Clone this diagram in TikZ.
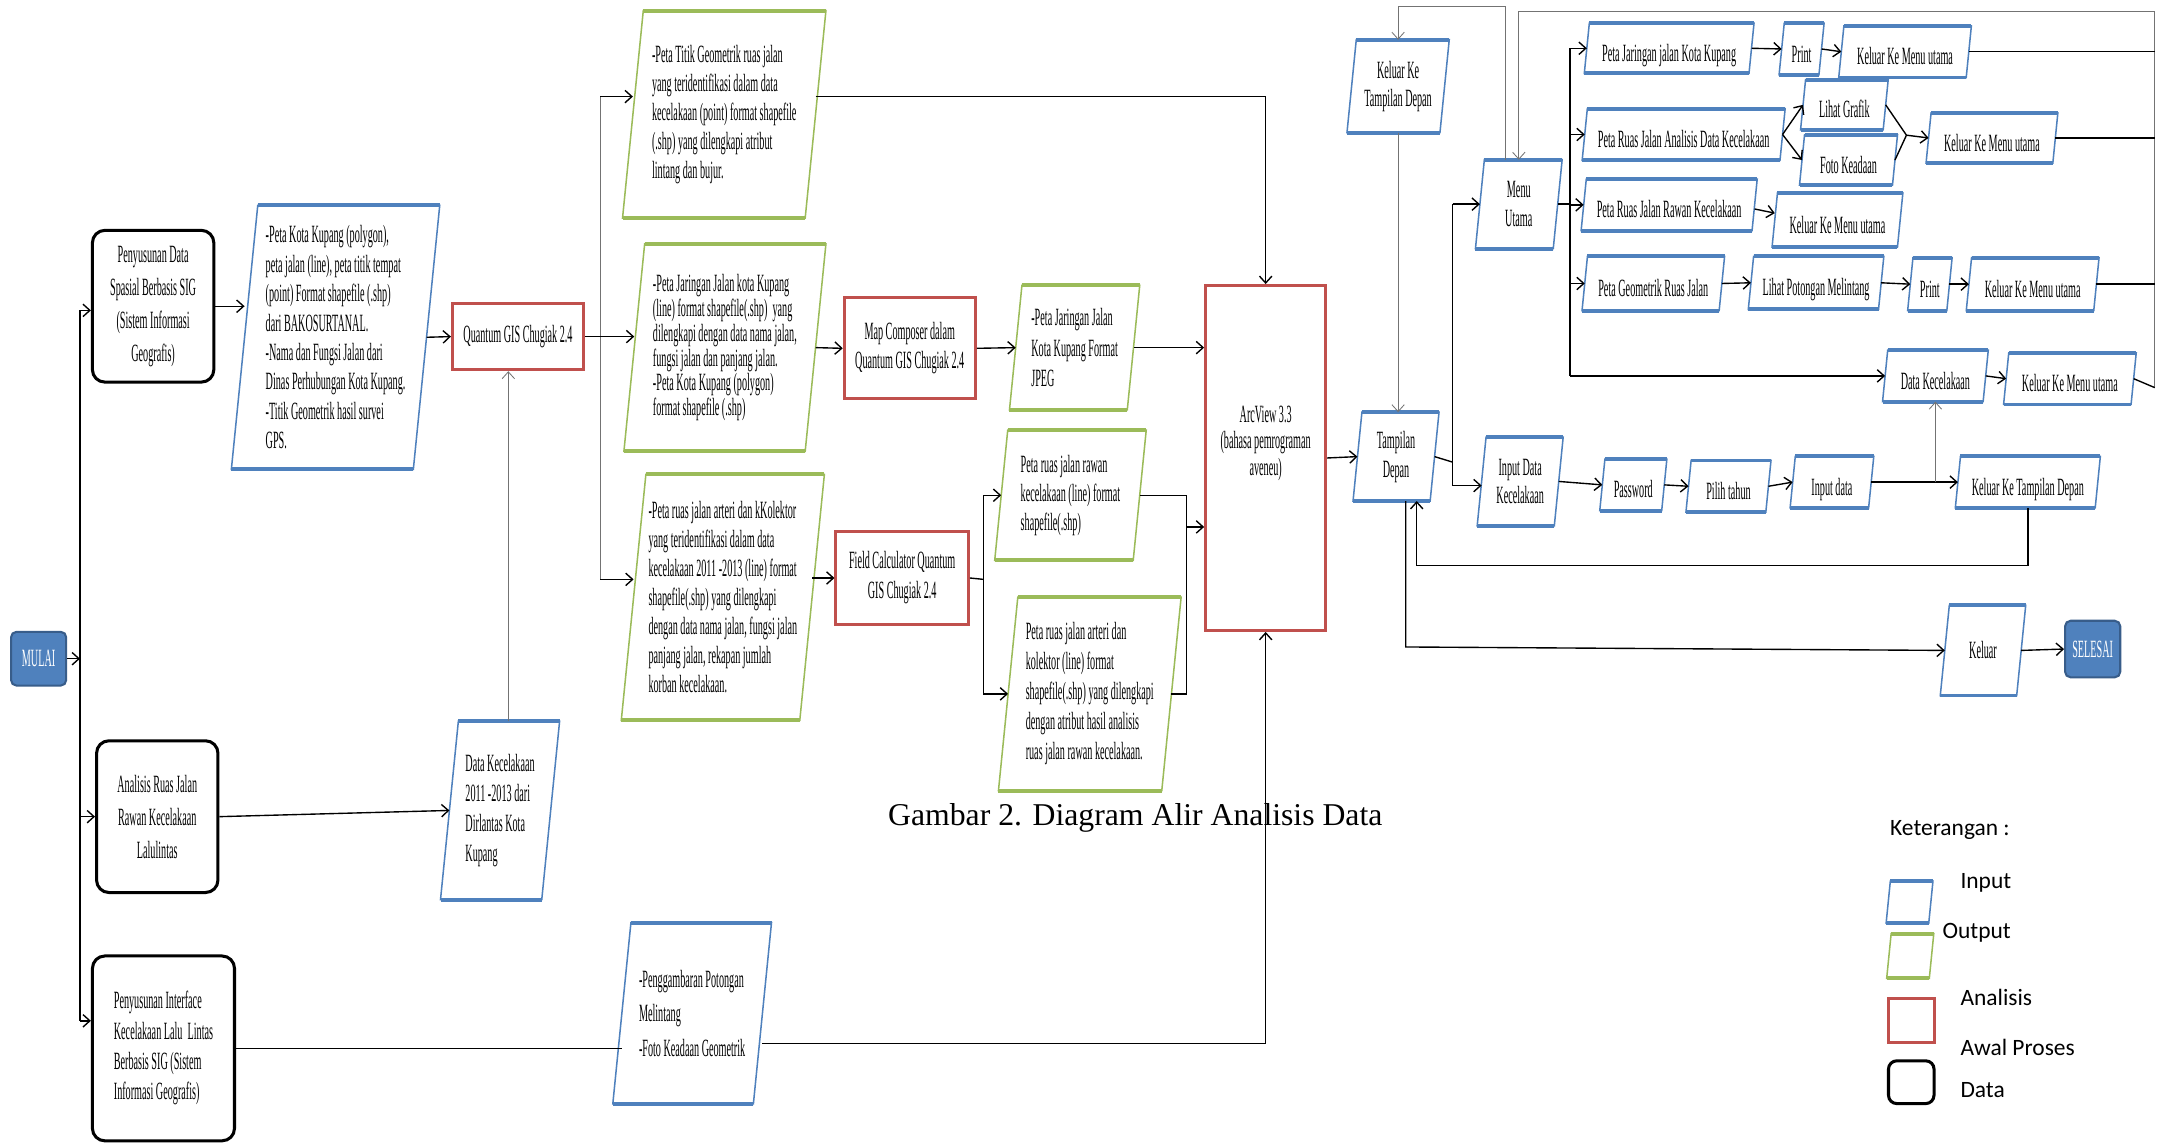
\documentclass[tikz,border=0pt]{standalone}
\usepackage{fontspec}
\usetikzlibrary{calc,arrows.meta}
\setmainfont{Liberation Serif}
\newfontfamily\boxfont[FakeStretch=0.41]{Liberation Serif}
\newfontfamily\legfont{Carlito}
\definecolor{inblue}{RGB}{79,129,189}
\definecolor{darkblue}{RGB}{56,93,138}
\definecolor{outgreen}{RGB}{155,187,89}
\definecolor{anred}{RGB}{192,80,77}
\newcommand{\paraframe}[2]{%
  \draw[#2, line width=1.1pt]
    let \p1=(#1.north west), \p2=(#1.south east), \n1={0.05*(\y1-\y2)} in
    (\x1+\n1,\y1) -- (\x2+\n1,\y1) -- (\x2-\n1,\y2) -- (\x1-\n1,\y2) -- cycle;
  \draw[#2, line width=2.8pt]
    let \p1=(#1.north west), \p2=(#1.south east), \n1={0.05*(\y1-\y2)} in
    (\x1+\n1,\y1) -- (\x2+\n1,\y1) (\x2-\n1,\y2) -- (\x1-\n1,\y2);
}

\begin{document}
\begin{tikzpicture}[x=1pt, y=-1pt, >={Straight Barb[length=5pt,width=9pt]},
    every node/.style={font=\boxfont\fontsize{18}{21}\selectfont, inner sep=2pt, align=center},
    ls/.style={font=\boxfont\fontsize{18}{#1}\selectfont},
    sz/.style 2 args={minimum width=#1pt, minimum height=#2pt},
    onerow/.style={text height=23pt, text depth=4pt},
    startbox/.style={fill=inblue, draw=darkblue, line width=1.5pt, rounded corners=4pt, text=white},
    databox/.style={draw, line width=2.2pt, rounded corners=9pt},
    anbox/.style={draw=anred, line width=2.2pt},
    conn/.style={line width=1pt},
    faint/.style={draw=black!55, line width=0.6pt},
    legtext/.style={font=\legfont\fontsize{17}{20}\selectfont, anchor=west, inner sep=0pt}]
    \path[use as bounding box, fill=white] (0,0) rectangle (1568,829);

    \node[startbox, sz={40}{39}] (mulai) at (28,477.5) {MULAI};
    \node[databox, sz={88}{110}, ls=24] (susun) at (111,222) {Penyusunan Data\\Spasial Berbasis SIG\\(Sistem Informasi\\Geografis)};
    \node[databox, sz={88}{110}, ls=24] (analisis) at (114,592) {Analisis Ruas Jalan\\Rawan Kecelakaan\\Lalulintas};
    \node[databox, sz={103}{134}, ls=22, align=left] (iface) at (118.5,760) {Penyusunan Interface\\Kecelakaan Lalu\ \ Lintas\\Berbasis SIG (Sistem\\Informasi Geografis)};
    \node[sz={131.5}{191}, ls=21.3, align=left] (pkk) at (243.25,244.5) {-Peta Kota Kupang (polygon),\\peta jalan (line), peta titik tempat\\(point) Format shapefile (.shp)\\dari BAKOSURTANAL.\\-Nama dan Fungsi Jalan dari\\Dinas Perhubungan Kota Kupang.\\-Titik Geometrik hasil survei\\GPS.};
    \node[anbox, sz={95}{48}] (qgis) at (375.5,244) {Quantum GIS Chugiak 2.4};
    \node[sz={73}{129}, ls=21.8, align=left] (dkec) at (362.5,587.5) {Data Kecelakaan\\2011 -2013 dari\\Dirlantas Kota\\Kupang};
    \node[sz={101.5}{131}, ls=25, align=left] (pgamb) at (501.75,734.5) {-Penggambaran Potongan\\Melintang\\-Foto Keadaan Geometrik};
    \node[sz={132}{150}, align=left] (titik) at (525,83) {-Peta Titik Geometrik ruas jalan\\yang teridentifikasi dalam data\\kecelakaan (point) format shapefile\\(.shp) yang dilengkapi atribut\\lintang dan bujur.};
    \node[sz={131}{150}, ls=18, align=left] (jar) at (525.5,252) {-Peta Jaringan Jalan kota Kupang\\(line) format shapefile(.shp)\ \ yang\\dilengkapi dengan data nama jalan,\\fungsi jalan dan panjang jalan.\\-Peta Kota Kupang (polygon)\\format shapefile (.shp)};
    \node[sz={129}{178}, align=left] (rute) at (524,433) {-Peta ruas jalan arteri dan kKolektor\\yang teridentifikasi dalam data\\kecelakaan 2011 -2013 (line) format\\shapefile(.shp) yang dilengkapi\\dengan data nama jalan, fungsi jalan\\panjang jalan, rekapan jumlah\\korban kecelakaan.};
    \node[anbox, sz={95}{73}] (mapc) at (659.5,252.5) {Map Composer dalam\\Quantum GIS Chugiak 2.4};
    \node[sz={85}{90}, ls=22, align=left] (jpeg) at (779,252) {-Peta Jaringan Jalan\\Kota Kupang Format\\JPEG};
    \node[anbox, sz={96}{68}, ls=21.8] (fcalc) at (654,419) {Field Calculator Quantum\\GIS Chugiak 2.4};
    \node[sz={100}{94}, align=left] (rawan) at (776,359) {Peta ruas jalan rawan\\kecelakaan (line) format\\shapefile(.shp)};
    \node[sz={118}{140}, ls=21.7, align=left] (arkol) at (790,503) {Peta ruas jalan arteri dan\\kolektor (line) format\\shapefile(.shp) yang dilengkapi\\dengan atribut hasil analisis\\ruas jalan rawan kecelakaan.};
    \node[anbox, sz={87}{250}, ls=19] (arcview) at (917.5,332) {ArcView 3.3\\(bahasa pemrograman\\aveneu)\\[6pt]\mbox{}};
    \node[font=\fontsize{23}{27}\selectfont] (caption) at (823,593) {Gambar 2. Diagram Alir Analisis Data};

    \node[sz={55.5}{64}] (tdepan) at (1012,331) {Tampilan\\Depan};
    \node[sz={67}{67}, ls=20.5] (kkdepan) at (1013.5,62.5) {Keluar Ke\\Tampilan Depan};
    \node[sz={56}{64}] (menu) at (1101,148) {Menu\\Utama};
    \node[onerow, sz={119}{36}] (jln) at (1210,35) {Peta Jaringan jalan Kota Kupang};
    \node[onerow, sz={28.5}{37}] (print1) at (1306,35.5) {Print};
    \node[onerow, sz={92}{37}] (kmu1) at (1381,37.5) {Keluar Ke Menu utama};
    \node[onerow, sz={143}{37}] (anl) at (1220.5,97.5) {Peta Ruas Jalan Analisis Data Kecelakaan};
    \node[onerow, sz={59.5}{36}] (grafik) at (1337,76) {Lihat Grafik};
    \node[onerow, sz={67}{36}] (foto) at (1340,116) {Foto Keadaan};
    \node[onerow, sz={91.5}{36}] (kmu2) at (1444,100) {Keluar Ke Menu utama};
    \node[onerow, sz={123.5}{37}] (rwn) at (1210,148.5) {Peta Ruas Jalan Rawan Kecelakaan};
    \node[onerow, sz={90.5}{39}] (kmu3) at (1332,159.5) {Keluar Ke Menu utama};
    \node[onerow, sz={99}{39}] (geo) at (1198.5,205.5) {Peta Geometrik Ruas Jalan};
    \node[onerow, sz={94}{38}] (potong) at (1316.5,205) {Lihat Potongan Melintang};
    \node[onerow, sz={28}{38}] (print2) at (1399,206) {Print};
    \node[onerow, sz={92}{38}] (kmu4) at (1473.5,206) {Keluar Ke Menu utama};
    \node[onerow, sz={72.5}{37}] (dkr) at (1403,272.5) {Data Kecelakaan};
    \node[onerow, sz={92}{37}] (kmu5) at (1500.5,274.5) {Keluar Ke Menu utama};
    \node[sz={55.5}{64}, ls=20.5] (idk) at (1102,349) {Input Data\\Kecelakaan};
    \node[onerow, sz={44.5}{37}] (pwd) at (1184,351.5) {Password};
    \node[onerow, sz={57.5}{37}] (tahun) at (1253,352.5) {Pilih tahun};
    \node[onerow, sz={56.5}{37}] (inp) at (1328,349.5) {Input data};
    \node[onerow, sz={101}{37}] (kktd) at (1470,349.5) {Keluar Ke Tampilan Depan};
    \node[sz={55}{65}] (keluar) at (1437.5,471.5) {Keluar};
    \node[startbox, sz={40}{41}] (selesai) at (1517,470.5) {SELESAI};

    \node[legtext] (ketlbl) at (1370,602) {Keterangan :};
    \node[sz={30.5}{30}] (lin) at (1384.25,654) {};
    \node[sz={30.5}{32}] (lout) at (1384.75,693) {};
    \node[anbox, sz={33}{32}] (lan) at (1385.5,740) {};
    \node[databox, sz={33}{31}, rounded corners=6pt] (ldat) at (1385.5,784.5) {};
    \node[legtext] (linlbl) at (1421,640) {Input};
    \node[legtext] (loutlbl) at (1408,676) {Output};
    \node[legtext] (lanlbl) at (1421,723) {Analisis};
    \node[legtext] (lawal) at (1421,759) {Awal Proses};
    \node[legtext] (ldatlbl) at (1421,790) {Data};

    \foreach \k in {pkk,dkec,pgamb,tdepan,kkdepan,menu,jln,print1,kmu1,anl,grafik,foto,kmu2,rwn,kmu3,geo,potong,print2,kmu4,dkr,kmu5,idk,pwd,tahun,inp,kktd,keluar,lin} {\paraframe{\k}{inblue}}
    \foreach \k in {titik,jar,rute,jpeg,rawan,arkol,lout} {\paraframe{\k}{outgreen}}

    \coordinate (tktop) at (58,225);
    \coordinate (tkbot) at (58,740);
    \draw[conn] (tktop) -- (tkbot);
    \draw[conn,->] (mulai) -- (mulai -| tktop);
    \draw[conn,->] (tktop) -- (tktop -| susun.west);
    \draw[conn,->] (tktop |- analisis) -- (analisis);
    \draw[conn,->] (tkbot) -- (tkbot -| iface.west);
    \draw[conn,->] (susun) -- (susun -| pkk.west);
    \draw[conn,->] (pkk.east) -- (qgis.west);
    \draw[faint,->] ([xshift=6pt]dkec.north) -- ([xshift=6pt]dkec.north |- qgis.south);
    \draw[conn,->] (analisis.east) -- (dkec.west);
    \draw[conn] (iface.east) -- (iface.east -| pgamb.west);
    \draw[conn,->] ($(pgamb.east)+(0,22)$) -| (arcview.south);

    \coordinate (qbr) at (435,244);
    \draw[conn] (qgis.east) -- (qbr);
    \draw[faint] ($(qbr |- titik.west)+(0,-13)$) -- ($(qbr |- rute.west)+(0,-13)$);
    \draw[conn,->] ($(qbr |- titik.west)+(0,-13)$) -- ($(titik.west)+(0,-13)$);
    \draw[conn,->] (qbr) -- (qbr -| jar.west);
    \draw[conn,->] ($(qbr |- rute.west)+(0,-13)$) -- ($(rute.west)+(0,-13)$);
    \draw[conn,->] ($(titik.east)+(0,-13)$) -| (arcview.north);
    \draw[conn,->] (jar.east) -- (mapc.west);
    \draw[conn,->] (mapc.east) -- (jpeg.west);
    \draw[conn,->] (jpeg.east) -- (jpeg.east -| arcview.west);
    \draw[conn,->] ($(rute.east)+(0,-14)$) -- (fcalc.west);
    \coordinate (fbr) at (713,420);
    \draw[conn] (fcalc.east) -- (fbr);
    \draw[conn,->] (fbr) |- (rawan.west);
    \draw[conn,->] (fbr) |- (arkol.west);
    \coordinate (mbr) at (860,382);
    \draw[conn] (rawan.east) -| (mbr);
    \draw[conn] (arkol.east) -| (mbr);
    \draw[conn,->] (mbr) -- (mbr -| arcview.west);
    \draw[conn,->] (arcview.east) -- (tdepan.west);

    \draw[faint,->] (kkdepan.south) -- (kkdepan.south |- tdepan.north);
    \coordinate (ktop) at (1013.5,5);
    \draw[faint,->] ($(menu.north)+(-10,0)$) |- (ktop) -- (kkdepan.north);
    \coordinate (rtop) at (1562,8);
    \coordinate (rbot) at (1562,281);
    \draw[faint] (rtop) -- (rbot);
    \draw[faint,->] (rtop) -| (menu.north);
    \draw[conn] (kmu1.east) -- (kmu1.east -| rtop);
    \draw[conn] (kmu2.east) -- (kmu2.east -| rtop);
    \draw[conn] (kmu4.east) -- (kmu4.east -| rtop);
    \draw[conn] (kmu5.east) -- (rbot);

    \coordinate (tbr) at (1053,335);
    \draw[conn] (tdepan.east) -- (tbr);
    \draw[conn] (tbr |- menu.west) -- ($(tbr |- idk.west)+(0,3)$);
    \draw[conn,->] (tbr |- menu.west) -- (menu.west);
    \draw[conn,->] ($(tbr |- idk.west)+(0,3)$) -- ($(idk.west)+(0,3)$);
    \coordinate (mbr2) at (1138,148);
    \draw[conn] (menu.east) -- (mbr2);
    \draw[conn] (mbr2 |- jln.west) -- (mbr2 |- dkr.west);
    \foreach \k in {jln,anl,rwn,geo,dkr} {\draw[conn,->] (mbr2 |- \k.west) -- (\k.west);}
    \draw[conn,->] (jln.east) -- (print1.west);
    \draw[conn,->] (print1.east) -- (kmu1.west);
    \draw[conn,->] (anl.east) -- (grafik.west);
    \draw[conn,->] (anl.east) -- (foto.west);
    \coordinate (gm) at (1382,98);
    \draw[conn] (grafik.east) -- (gm) -- (foto.east);
    \draw[conn,->] (gm) -- (kmu2.west);
    \draw[conn,->] ($(rwn.east)+(0,3)$) -- ($(kmu3.west)+(0,-5)$);
    \draw[conn,->] (geo.east) -- (potong.west);
    \draw[conn,->] (potong.east) -- (print2.west);
    \draw[conn,->] (print2.east) -- (kmu4.west);
    \draw[conn,->] (dkr.east) -- (kmu5.west);
    \draw[conn,->] (idk.east) -- (pwd.west);
    \draw[conn,->] (pwd.east) -- (tahun.west);
    \draw[conn,->] (tahun.east) -- (inp.west);
    \draw[conn,->] (inp.east) -- (kktd.west);
    \draw[faint,->] (inp.east -| dkr.south) -- (dkr.south);
    \coordinate (rt) at (1027,410);
    \draw[conn,->] (kktd.south) |- (rt) -- (rt |- tdepan.south);
    \coordinate (kl) at (1019,469);
    \draw[conn,->] (kl |- tdepan.south) -- (kl) -- (keluar.west);
    \draw[conn,->] (keluar.east) -- (selesai.west);
\end{tikzpicture}
\end{document}
